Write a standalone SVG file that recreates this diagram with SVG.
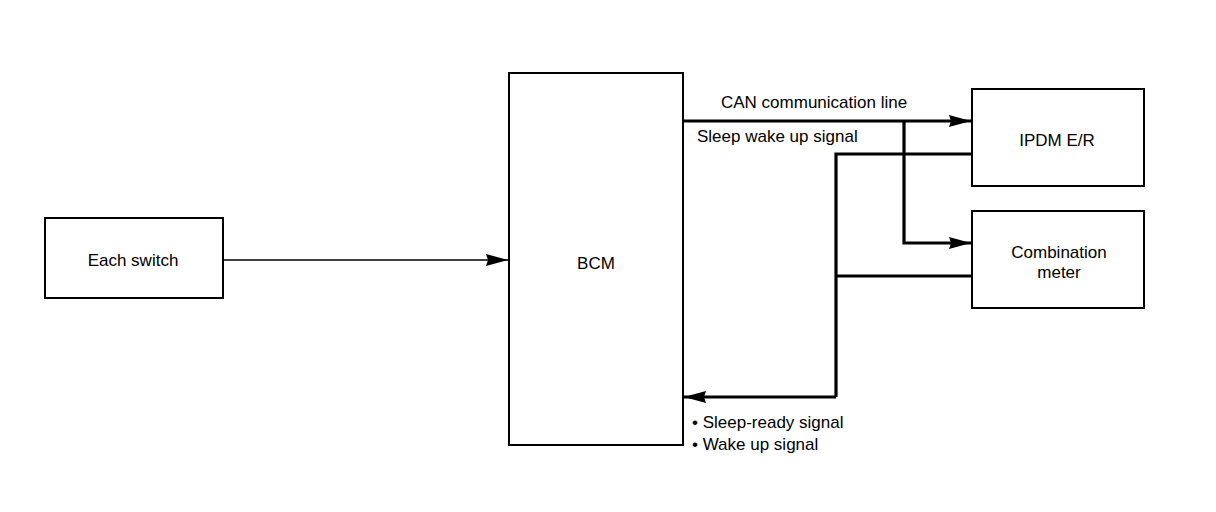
<svg xmlns="http://www.w3.org/2000/svg" width="1216" height="512" viewBox="0 0 1216 512">
<defs>
<style>
.box{fill:#fff;stroke:#000;stroke-width:2}
.t{font-family:"Liberation Sans",Arial,sans-serif;font-size:17px;fill:#000}
.m{text-anchor:middle}
.thin{fill:none;stroke:#000;stroke-width:1.6}
.thick{fill:none;stroke:#000;stroke-width:3.2}
</style>
<marker id="ah" markerWidth="22" markerHeight="14" refX="22" refY="7" orient="auto" markerUnits="userSpaceOnUse">
<path d="M0,1 L22,7 L0,13 L2,7 Z" fill="#000"/>
</marker>
</defs>
<rect width="1216" height="512" fill="#fff"/>
<g id="each-switch">
<rect class="box" x="45" y="218" width="178" height="80"/>
<text class="t m" x="133" y="266">Each switch</text>
</g>
<g id="bcm">
<rect class="box" x="509" y="73" width="174" height="372"/>
<text class="t m" x="596" y="269">BCM</text>
</g>
<g id="ipdm">
<rect class="box" x="972" y="89" width="172" height="97"/>
<text class="t m" x="1057" y="146">IPDM E/R</text>
</g>
<g id="combination-meter">
<rect class="box" x="972" y="211" width="172" height="97"/>
<text class="t m" x="1059" y="258">Combination</text>
<text class="t m" x="1059" y="278">meter</text>
</g>
<g id="connectors">
<line class="thin" x1="224" y1="260" x2="508" y2="260" marker-end="url(#ah)"/>
<line class="thick" x1="684" y1="121" x2="971" y2="121" marker-end="url(#ah)"/>
<polyline class="thick" points="904,121 904,243 971,243" marker-end="url(#ah)"/>
<polyline class="thick" points="971,154 836,154 836,397"/>
<line class="thick" x1="971" y1="276" x2="836" y2="276"/>
<line class="thick" x1="836" y1="397" x2="684" y2="397" marker-end="url(#ah)"/>
</g>
<g id="labels">
<text class="t" x="721" y="108">CAN communication line</text>
<text class="t" x="697" y="142">Sleep wake up signal</text>
<text class="t" x="692" y="428">• Sleep-ready signal</text>
<text class="t" x="692" y="450">• Wake up signal</text>
</g>
</svg>
